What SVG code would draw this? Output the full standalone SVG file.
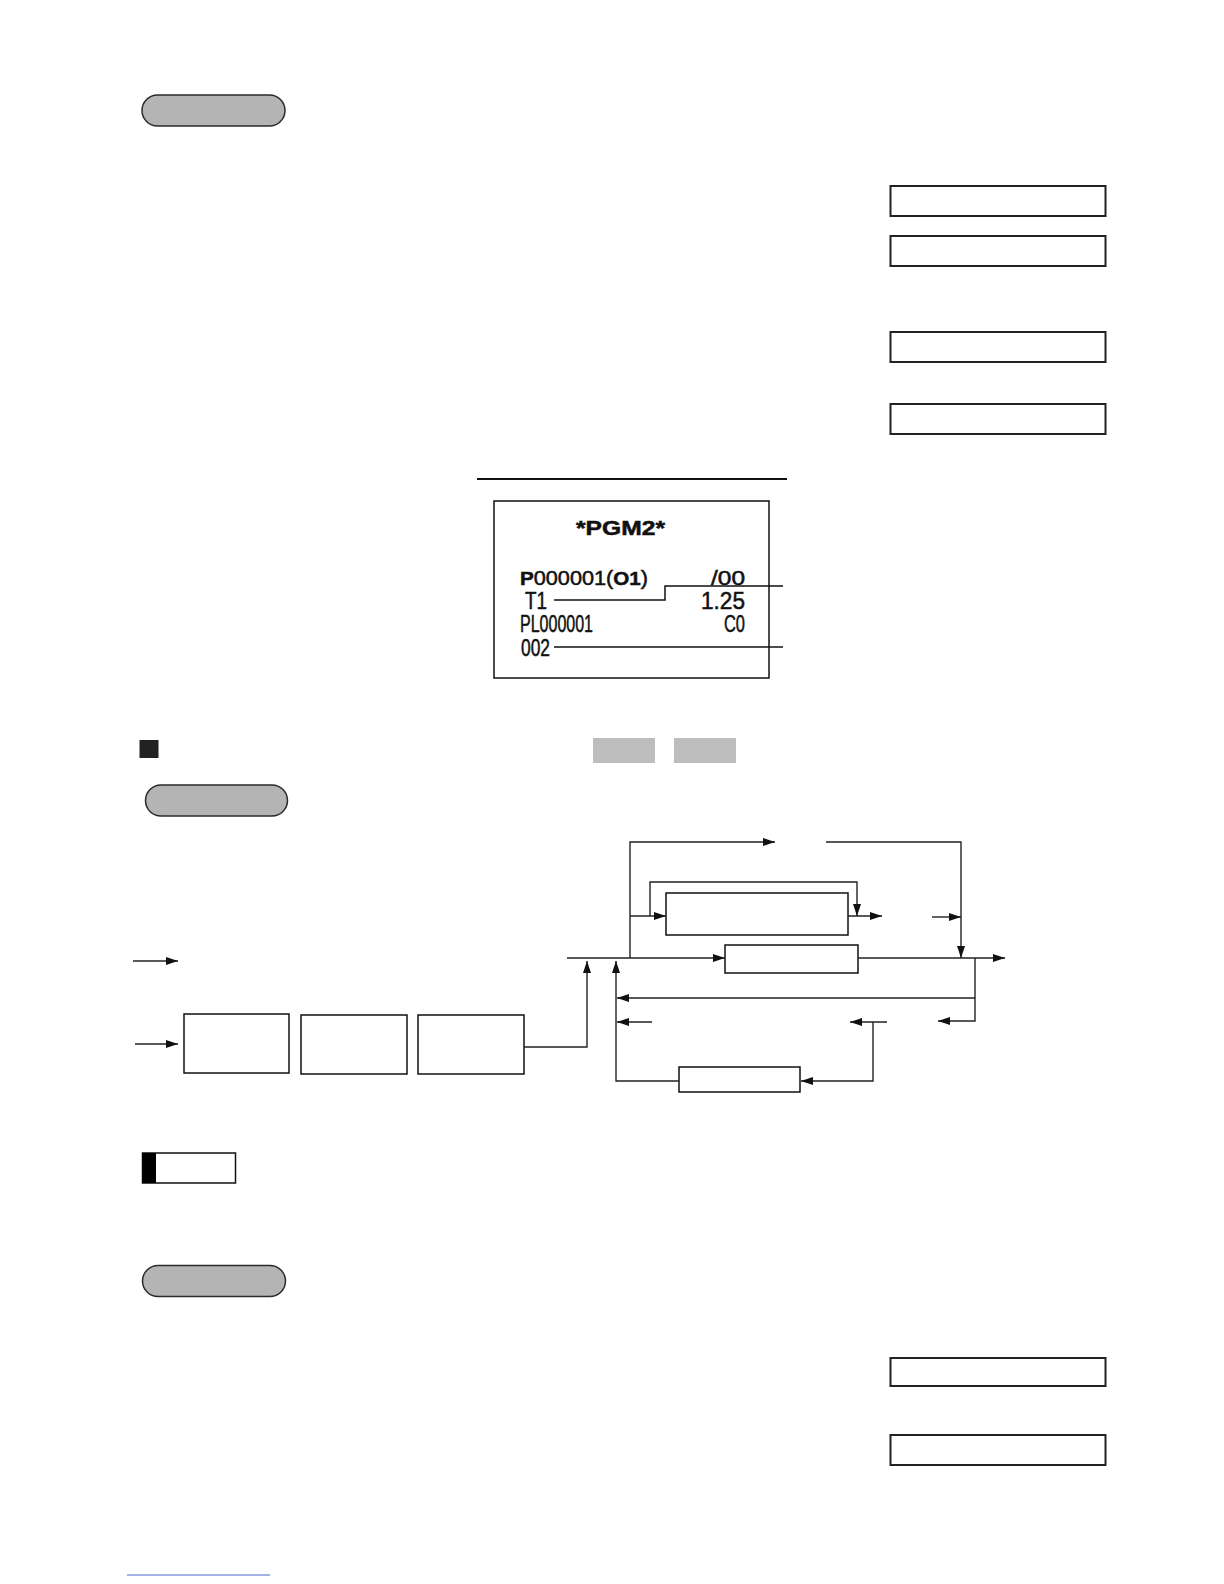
<svg xmlns="http://www.w3.org/2000/svg" width="1224" height="1584" viewBox="0 0 1224 1584">
<style>
.pill{fill:#b4b4b4;stroke:#2a2a2a;stroke-width:1.5}
.disp{fill:#fff;stroke:#222;stroke-width:2}
.box{fill:#fff;stroke:#111;stroke-width:1.5}
.gray{fill:#bdbdbd}
.con{fill:none;stroke:#222;stroke-width:1.4}
.arr{marker-end:url(#ah)}
.rc{font-family:"Liberation Sans",Arial,sans-serif;fill:#111;stroke:#111;stroke-width:0.5}
.rl{fill:none;stroke:#111;stroke-width:1.5}
</style>
<defs>
<marker id="ah" markerUnits="userSpaceOnUse" markerWidth="13" markerHeight="8" refX="12" refY="4" orient="auto">
<path d="M0,0 L12,4 L0,8 z" fill="#111"/>
</marker>
</defs>
<rect width="1224" height="1584" fill="#fff"/>

<g id="pill1"><rect class="pill" x="142" y="95" width="143" height="31" rx="15.5"/></g>

<g id="display1"><rect class="disp" x="890.5" y="186" width="215" height="30"/></g>
<g id="display2"><rect class="disp" x="890.5" y="236" width="215" height="30"/></g>
<g id="display3"><rect class="disp" x="890.5" y="332" width="215" height="30"/></g>
<g id="display4"><rect class="disp" x="890.5" y="404" width="215" height="30"/></g>

<g id="rule"><line x1="477" y1="479" x2="787" y2="479" stroke="#111" stroke-width="2"/></g>

<g id="receipt">
<rect x="494" y="501" width="275" height="177" fill="#fff" stroke="#111" stroke-width="1.5"/>
<text class="rc" x="576" y="535" font-size="20" font-weight="bold" textLength="89" lengthAdjust="spacingAndGlyphs">*PGM2*</text>
<text class="rc" x="520" y="585" font-size="20" textLength="128" lengthAdjust="spacingAndGlyphs"><tspan font-size="19" font-weight="bold">P</tspan>000001(<tspan font-size="19" font-weight="bold">O1</tspan>)</text>
<text class="rc" x="711" y="585" font-size="20" textLength="34" lengthAdjust="spacingAndGlyphs">/00</text>
<text class="rc" x="525" y="609" font-size="23" textLength="22" lengthAdjust="spacingAndGlyphs">T1</text>
<text class="rc" x="701" y="609" font-size="23" textLength="44" lengthAdjust="spacingAndGlyphs">1.25</text>
<text class="rc" x="520" y="632" font-size="23" textLength="73" lengthAdjust="spacingAndGlyphs">PL000001</text>
<text class="rc" x="724" y="632" font-size="23" textLength="21" lengthAdjust="spacingAndGlyphs">C0</text>
<text class="rc" x="521" y="656" font-size="23" textLength="29" lengthAdjust="spacingAndGlyphs">002</text>
<path class="rl" d="M554,600 H665 V586 H783"/>
<path class="rl" d="M554,647 H783"/>
</g>

<g id="bullet"><rect x="139.5" y="740" width="19" height="18" fill="#222"/></g>
<g id="key1"><rect class="gray" x="593" y="738" width="62" height="25"/></g>
<g id="key2"><rect class="gray" x="674" y="738" width="62" height="25"/></g>
<g id="pill2"><rect class="pill" x="145.5" y="785" width="142" height="31" rx="15.5"/></g>

<g id="box1"><rect class="box" x="184" y="1014" width="105" height="59"/></g>
<g id="box2"><rect class="box" x="301" y="1015" width="106" height="59"/></g>
<g id="box3"><rect class="box" x="418" y="1015" width="106" height="59"/></g>
<g id="b1"><rect class="box" x="666" y="893" width="182" height="42"/></g>
<g id="b2"><rect class="box" x="725" y="945" width="133" height="28"/></g>
<g id="b3"><rect class="box" x="679" y="1067" width="121" height="25"/></g>

<g id="connectors">
<path class="con arr" d="M133,961 H178"/>
<path class="con arr" d="M135,1044 H178"/>
<path class="con arr" d="M524,1047 H587 V961"/>
<path class="con arr" d="M567,958 H725"/>
<path class="con arr" d="M858,958 H1005"/>
<path class="con arr" d="M630,958 V842 H775"/>
<path class="con arr" d="M826,842 H961 V958"/>
<path class="con arr" d="M630,916 H666"/>
<path class="con arr" d="M650,916 V882 H857 V916"/>
<path class="con arr" d="M848,916 H882"/>
<path class="con arr" d="M932,917 H961"/>
<path class="con arr" d="M975,958 V1021 H938"/>
<path class="con arr" d="M975,998 H617"/>
<path class="con arr" d="M652,1022 H617"/>
<path class="con arr" d="M887,1022 H850"/>
<path class="con arr" d="M873,1022 V1081 H801"/>
<path class="con arr" d="M679,1081 H616 V961"/>
</g>

<g id="note">
<rect x="142.5" y="1153" width="93" height="30" fill="#fff" stroke="#111" stroke-width="1.5"/>
<rect x="142.5" y="1153" width="13.5" height="30" fill="#000"/>
</g>

<g id="pill3"><rect class="pill" x="142.5" y="1265.5" width="143" height="31" rx="15.5"/></g>

<g id="display5"><rect class="disp" x="890.5" y="1358" width="215" height="28"/></g>
<g id="display6"><rect class="disp" x="890.5" y="1435" width="215" height="30"/></g>

<g id="footline"><line x1="127" y1="1575" x2="270" y2="1575" stroke="#4466cc" stroke-width="1"/></g>
</svg>
